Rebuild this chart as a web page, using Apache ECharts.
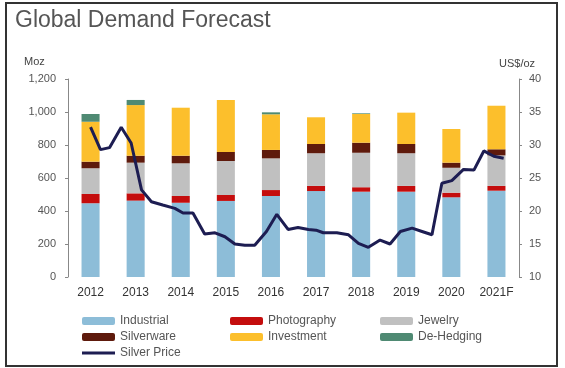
<!DOCTYPE html>
<html><head><meta charset="utf-8">
<script src="https://cdn.jsdelivr.net/npm/echarts@6/dist/echarts.min.js"></script>
<style>html,body{margin:0;padding:0;background:#fff}#c{width:565px;height:368px}</style>
</head><body><div id="c"></div>
<script>
var years = ['2012','2013','2014','2015','2016','2017','2018','2019','2020','2021F'];
var industrial  = [447, 463, 450, 461, 491, 521, 517, 517, 483, 523];
var photography = [56, 44, 41, 36, 36, 31, 27, 35, 28, 29];
var jewelry     = [156, 186, 198, 206, 192, 198, 209, 198, 151, 185];
var silverware  = [40, 42, 46, 55, 51, 56, 61, 56, 31, 37];
var investment  = [242, 307, 291, 315, 216, 162, 174, 190, 204, 264];
var deHedging   = [47, 31, 0, 0, 12, 0, 4, 0, 0, 0];
var priceTime = [2012.0, 2012.22, 2012.42, 2012.68, 2012.90, 2013.13, 2013.35, 2013.6, 2013.87, 2014.05, 2014.27, 2014.53, 2014.76, 2014.98, 2015.2, 2015.42, 2015.64, 2015.9, 2016.13, 2016.38, 2016.6, 2016.83, 2017.0, 2017.16, 2017.46, 2017.72, 2017.94, 2018.16, 2018.42, 2018.64, 2018.87, 2019.13, 2019.35, 2019.57, 2019.79, 2020.01, 2020.27, 2020.5, 2020.72, 2020.94, 2021.16];
var priceValue = [32.7, 29.3, 29.6, 32.7, 30.3, 23.2, 21.4, 20.9, 20.4, 19.7, 19.7, 16.5, 16.7, 16.1, 15.0, 14.8, 14.8, 16.9, 19.5, 17.2, 17.5, 17.2, 17.1, 16.7, 16.7, 16.4, 15.1, 14.5, 15.6, 15.0, 16.9, 17.4, 16.9, 16.4, 24.2, 24.6, 26.3, 26.2, 29.1, 28.3, 28.0];
var leftTicks = {min: 0, max: 1200, interval: 200};
var rightTicks = {min: 10, max: 40, interval: 5};

var colors = {
  Industrial: '#8dbdd8', Photography: '#c40d0d', Jewelry: '#c0c0c0',
  Silverware: '#5e1a0c', Investment: '#fcbf2c', 'De-Hedging': '#4f8a73', 'Silver Price': '#1d1d52'
};
function bar(name, data) {
  return {name: name, type: 'bar', stack: 'd', data: data, barWidth: '40%',
    itemStyle: {color: colors[name]}, xAxisIndex: 0, yAxisIndex: 0};
}
var priceData = priceTime.map(function (t, i) { return [t, priceValue[i]]; });

var chart = echarts.init(document.getElementById('c'), null, {renderer: 'canvas'});
var legendText = {color: '#555', fontSize: 12, fontFamily: 'Liberation Sans'};
chart.setOption({
  animation: false,
  title: {text: 'Global Demand Forecast', left: 10, top: 4,
    textStyle: {fontSize: 23, fontWeight: 'normal', color: '#555', fontFamily: 'Liberation Sans'}},
  graphic: [
    {type: 'rect', shape: {x: 6, y: 3, width: 551, height: 363}, style: {fill: 'none', stroke: '#333', lineWidth: 2}},
    {type: 'text', left: 24, top: 56, style: {text: 'Moz', fill: '#444', font: '11px "Liberation Sans"'}},
    {type: 'text', left: 499, top: 58, style: {text: 'US$/oz', fill: '#444', font: '11px "Liberation Sans"'}}
  ],
  legend: [
    {orient: 'vertical', left: 77, top: 310, itemWidth: 33, itemHeight: 8, itemGap: 4,
      data: ['Industrial', 'Silverware', {name: 'Silver Price', icon: 'path://M0 0 L33 0 L33 3 L0 3 Z'}], textStyle: legendText},
    {orient: 'vertical', left: 225, top: 310, itemWidth: 33, itemHeight: 8, itemGap: 4,
      data: ['Photography', 'Investment'], textStyle: legendText},
    {orient: 'vertical', left: 375, top: 310, itemWidth: 33, itemHeight: 8, itemGap: 4,
      data: ['Jewelry', 'De-Hedging'], textStyle: legendText}
  ],
  grid: {left: 68, right: 46, top: 79, bottom: 91, containLabel: false},
  xAxis: [
    {type: 'category', data: years, axisLine: {show: false}, axisTick: {show: false},
      axisLabel: {color: '#333', fontSize: 12, margin: 10, fontFamily: 'Liberation Sans'}},
    {type: 'value', min: 2011.5, max: 2021.5, show: false}
  ],
  yAxis: [
    {type: 'value', min: leftTicks.min, max: leftTicks.max, interval: leftTicks.interval,
      axisLine: {show: true, lineStyle: {color: '#888'}}, axisTick: {show: true, length: 3, lineStyle: {color: '#888'}},
      splitLine: {show: false}, axisLabel: {color: '#555', fontSize: 11, margin: 12, fontFamily: 'Liberation Sans'}},
    {type: 'value', min: rightTicks.min, max: rightTicks.max, interval: rightTicks.interval, position: 'right',
      axisLine: {show: true, lineStyle: {color: '#888'}}, axisTick: {show: true, length: 3, lineStyle: {color: '#888'}},
      splitLine: {show: false}, axisLabel: {color: '#555', fontSize: 11, margin: 10, fontFamily: 'Liberation Sans'}}
  ],
  series: [
    bar('Industrial', industrial),
    bar('Photography', photography),
    bar('Jewelry', jewelry),
    bar('Silverware', silverware),
    bar('Investment', investment),
    bar('De-Hedging', deHedging),
    {name: 'Silver Price', type: 'line', xAxisIndex: 1, yAxisIndex: 1, data: priceData,
      symbol: 'none', lineStyle: {color: colors['Silver Price'], width: 3}, itemStyle: {color: colors['Silver Price']}, z: 5}
  ]
});
</script></body></html>
